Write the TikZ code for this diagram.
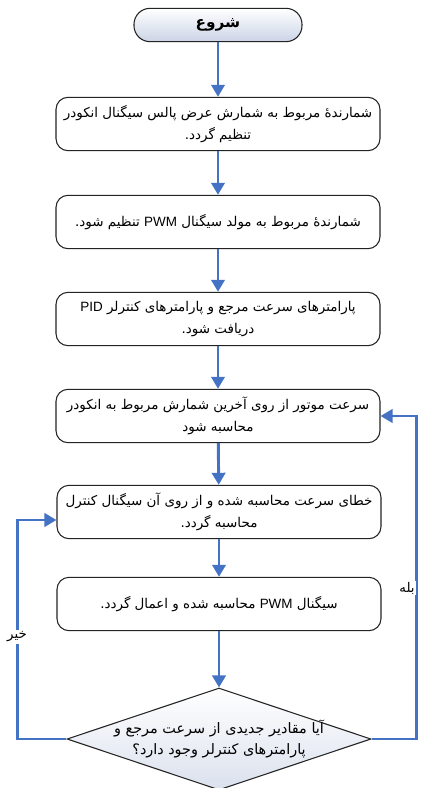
\documentclass[tikz,border=0pt]{standalone}
\usepackage{fontspec}
\usepackage{tikz}
\usetikzlibrary{arrows.meta,shapes.geometric,calc}
\TeXXeTstate=1
\newfontfamily\farsifont[Script=Arabic]{DejaVu Sans}
\newfontfamily\latinfont{Liberation Sans}
\newcommand{\fa}[1]{{\farsifont\beginR #1\endR}}
\newcommand{\ltn}[1]{\beginL{\latinfont #1}\endL{}}
\definecolor{flowblue}{RGB}{68,114,196}
\definecolor{boxline}{RGB}{35,35,35}
\definecolor{shadeblue}{RGB}{203,212,230}

\begin{document}
\begin{tikzpicture}[x=0.75pt,y=-0.75pt,
  startbox/.style={draw=boxline,line width=0.8pt,rounded corners=12pt,minimum width=126pt,minimum height=25pt,top color=white,bottom color=shadeblue,font=\fontsize{11.5}{13}\selectfont},
  box/.style={draw=boxline,line width=0.8pt,rounded corners=9pt,minimum width=243pt,minimum height=40pt,align=center,font=\fontsize{10.1}{16.5}\selectfont},
  decbox/.style={draw=boxline,line width=0.8pt,diamond,inner sep=0pt,minimum width=228pt,minimum height=76.5pt,top color=white,bottom color=shadeblue!70},
  flow/.style={flowblue,line width=2.2pt,-{Triangle[width=10pt,length=9pt]}},
  lbl/.style={fill=white,inner sep=1pt,font=\fontsize{10}{12}\selectfont}]
\useasboundingbox (0,0) rectangle (425,788);
\node[startbox] (start) at (218,25) {\fa{\bfseries شروع}};
\node[box] (enc) at (218,124) {\fa{شمارندهٔ مربوط به شمارش عرض پالس سیگنال انکودر}\\\fa{تنظیم گردد.}};
\node[box] (pwm) at (218,222) {\fa{شمارندهٔ مربوط به مولد سیگنال \ltn{PWM} تنظیم شود.}};
\node[box] (par) at (218,319) {\fa{پارامترهای سرعت مرجع و پارامترهای کنترلر \ltn{PID}}\\\fa{دریافت شود.}};
\node[box] (spd) at (218,416) {\fa{سرعت موتور از روی آخرین شمارش مربوط به انکودر}\\\fa{محاسبه شود}};
\node[box] (err) at (219,512) {\fa{خطای سرعت محاسبه شده و از روی آن سیگنال کنترل}\\\fa{محاسبه گردد.}};
\node[box] (sig) at (219,604) {\fa{سیگنال \ltn{PWM} محاسبه شده و اعمال گردد.}};
\node[decbox] (ask) at (219,739) {};
\node[align=center,font=\fontsize{10.8}{16}\selectfont] (asktext) at (ask) {\fa{آیا مقادیر جدیدی از سرعت مرجع و}\\\fa{پارامترهای کنترلر وجود دارد؟}};
\draw[flow] (start) -- (enc);
\draw[flow] (enc) -- (pwm);
\draw[flow] (pwm) -- (par);
\draw[flow] (par) -- (spd);
\draw[flow] (spd) -- (err);
\draw[flow] (err) -- (sig);
\draw[flow] (sig) -- (ask);
\draw[flow] (ask.west) -- ++(-49,0) |- ([yshift=-6pt]err.west);
\draw[flow] (ask.east) -- ++(45,0) |- (spd.east);
\node[lbl] (no) at (17,637) {\fa{خیر}};
\node[lbl] (yes) at (407,588) {\fa{بله}};
\end{tikzpicture}
\end{document}
